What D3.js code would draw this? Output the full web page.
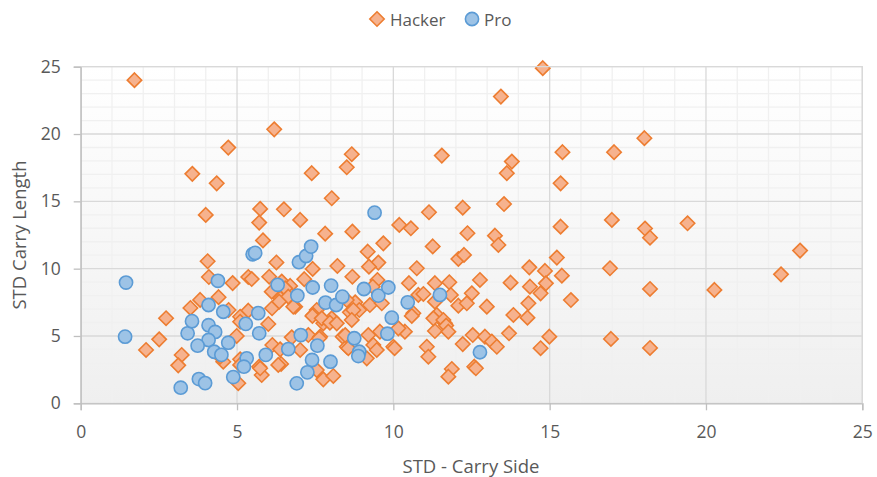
<!DOCTYPE html>
<html>
<head>
<meta charset="utf-8">
<title>STD Carry Side vs Carry Length</title>
<script src="https://d3js.org/d3.v7.min.js"></script>
<style>
  body { margin: 0; background: #fff; }
  text { font-family: "Open Sans", "Noto Sans", sans-serif; fill: #595959; }
</style>
</head>
<body>
<svg id="chart" width="877" height="477"></svg>
<script>
// values: [STD carry side, STD carry length]
const hacker = [
  [1.72,24.0],[14.78,24.89],[13.44,22.78],[6.19,20.35],[4.72,18.99],[18.03,19.69],[17.06,18.65],
  [15.41,18.65],[8.67,18.5],[11.55,18.4],[13.79,17.95],[8.51,17.53],[3.57,17.04],[7.39,17.09],
  [13.63,17.09],[4.35,16.34],[15.35,16.34],[8.03,15.23],[13.54,14.8],[12.22,14.53],[5.74,14.44],
  [6.5,14.41],[4.0,13.99],[11.14,14.19],[7.02,13.62],[16.99,13.62],[19.41,13.37],[15.35,13.12],
  [18.05,12.98],[18.21,12.3],[5.71,13.42],[10.19,13.25],[10.56,13.0],[8.69,12.75],[7.82,12.6],
  [12.37,12.63],[13.25,12.45],[13.36,11.76],[5.83,12.1],[9.68,11.88],[11.26,11.65],[23.01,11.34],
  [9.18,11.26],
  [4.06,10.55],[6.26,10.46],[9.52,10.45],[9.22,10.15],[8.21,10.2],[7.42,9.98],[10.75,10.03],
  [12.08,10.72],[12.26,11.02],[15.23,10.82],[14.35,10.1],[14.85,9.83],[15.39,9.48],[16.93,10.03],
  [22.4,9.58],[8.69,9.4],[4.1,9.38],[4.86,8.93],[5.36,9.38],[5.47,9.23],[6.03,9.4],[7.15,9.22],
  [6.43,9.04],[9.49,9.16],[10.5,8.92],[11.33,8.92],[11.79,8.99],[12.77,9.16],[13.75,8.96],
  [14.37,8.66],[14.88,8.91],[9.34,8.66],[6.7,8.72],[6.59,8.34],[6.54,8.54],[18.21,8.49],[20.27,8.42],
  [4.41,7.88],[3.82,7.68],[3.51,7.08],[6.38,7.8],[6.12,7.06],[6.86,7.18],[4.73,6.93],[5.36,6.88],
  [8.78,7.5],[8.91,6.93],[9.25,7.3],[8.61,6.76],[9.63,7.43],[10.8,8.05],[10.96,8.12],[11.33,7.55],
  [11.84,8.05],[12.51,8.17],[12.08,7.25],[12.35,7.43],[12.99,7.18],[14.32,7.43],[14.71,8.17],
  [15.68,7.67],[8.51,7.67],[6.11,8.29],[6.64,7.92],[6.35,7.55],[6.8,7.18],[7.55,6.93],[7.44,6.56],
  [7.76,5.94],[8.03,6.31],
  [2.73,6.32],[5.1,6.43],[7.41,6.49],[7.71,6.31],[7.97,5.99],[8.19,5.94],[8.72,6.93],[8.67,6.19],
  [6.0,5.89],[10.64,6.69],[11.39,6.56],[11.65,5.94],[11.33,5.37],[10.59,6.49],[11.28,6.31],
  [11.6,6.19],[11.69,5.77],[11.76,5.32],[13.84,6.56],[14.29,6.36],[9.57,5.32],[10.37,5.32],
  [10.16,5.57],[9.2,5.07],[12.54,5.07],[13.7,5.2],[12.93,4.95],[14.99,4.95],[16.96,4.78],[5.1,6.06],
  [2.51,4.75],[2.09,3.96],[3.23,3.59],[3.12,2.82],[4.99,5.0],[4.56,3.09],[5.1,3.27],[4.46,3.46],
  [6.13,4.33],[6.38,4.01],[6.75,4.9],[7.02,3.96],[7.28,5.07],[7.66,4.95],[8.38,4.95],[8.51,4.2],
  [7.63,4.83],[8.46,5.07],[9.36,4.33],[9.47,3.96],[10.0,4.2],[10.04,4.09],[11.07,4.2],[11.12,3.46],
  [8.56,4.09],[9.15,3.34],[12.22,4.4],[13.15,4.58],[13.31,4.2],[14.71,4.09],[18.21,4.11],
  [6.41,2.92],[5.71,2.72],[5.79,2.1],[5.04,1.49],[7.55,2.47],[7.76,1.78],[8.08,2.03],[5.1,2.85],
  [5.74,2.6],[6.32,2.85],[11.87,2.55],[11.76,1.98],[12.59,2.72],[12.64,2.6]
];

const pro = [
  [1.45,8.97],[1.42,4.95],[3.2,1.16],[3.78,1.8],[3.98,1.5],[3.42,5.2],[3.56,6.1],[4.09,7.3],
  [4.09,5.8],[4.3,5.3],[4.09,4.7],[3.74,4.28],[4.27,3.83],[4.5,3.6],[4.72,4.5],[4.56,6.8],
  [4.39,9.1],[5.5,11.07],[5.58,11.17],[5.28,5.9],[5.68,6.7],[5.71,5.2],[5.92,3.6],[5.31,3.34],
  [5.22,2.72],[4.88,1.95],[6.3,8.8],[6.93,8.0],[7.04,5.07],[6.64,4.03],[7.4,3.22],[7.25,2.3],
  [6.91,1.48],[7.57,4.28],[7.99,3.09],[7.83,7.48],[8.01,8.74],[8.17,7.3],[8.37,7.92],[6.98,10.48],
  [7.21,10.94],[7.37,11.64],[7.42,8.6],[8.75,4.83],[8.91,3.83],[8.88,3.51],[9.06,8.49],[9.52,8.0],
  [9.84,8.6],[9.95,6.36],[9.81,5.17],[10.46,7.5],[11.49,8.05],[9.4,14.16],[12.77,3.79]
];

const seriesNames = ["Hacker", "Pro"];
const xTicks = [0, 5, 10, 15, 20, 25];
const yTicks = [0, 5, 10, 15, 20, 25];

const svg = d3.select("#chart");
const pLeft = 80.7, pRight = 862.3, pTop = 66.7, pBottom = 403.3;

const x = d3.scaleLinear().domain([0, 25]).range([pLeft, pRight]);
const y = d3.scaleLinear().domain([0, 25]).range([pBottom, pTop]);

// plot background gradient
const defs = svg.append("defs");
const grad = defs.append("linearGradient").attr("id", "bg")
  .attr("x1", 0).attr("y1", 0).attr("x2", 0).attr("y2", 1);
grad.append("stop").attr("offset", "0%").attr("stop-color", "#ffffff");
grad.append("stop").attr("offset", "100%").attr("stop-color", "#efefef");

svg.append("rect")
  .attr("x", pLeft).attr("y", pTop)
  .attr("width", pRight - pLeft).attr("height", pBottom - pTop)
  .attr("fill", "url(#bg)");

// minor grid
const minor = d3.range(0, 26).filter(d => d % 5 !== 0);
svg.append("g").selectAll("line").data(minor).join("line")
  .attr("x1", d => x(d)).attr("x2", d => x(d))
  .attr("y1", pTop).attr("y2", pBottom)
  .attr("stroke", "#f0f0f0").attr("stroke-width", 1.3);
svg.append("g").selectAll("line").data(minor).join("line")
  .attr("y1", d => y(d)).attr("y2", d => y(d))
  .attr("x1", pLeft).attr("x2", pRight)
  .attr("stroke", "#f0f0f0").attr("stroke-width", 1.3);

// major grid
svg.append("g").selectAll("line").data(xTicks).join("line")
  .attr("x1", d => x(d)).attr("x2", d => x(d))
  .attr("y1", pTop).attr("y2", pBottom)
  .attr("stroke", "#d9d9d9").attr("stroke-width", 1.3);
svg.append("g").selectAll("line").data(yTicks).join("line")
  .attr("y1", d => y(d)).attr("y2", d => y(d))
  .attr("x1", pLeft).attr("x2", pRight)
  .attr("stroke", "#d9d9d9").attr("stroke-width", 1.3);

// axes
const xAxis = svg.append("g")
  .attr("transform", "translate(0," + pBottom + ")")
  .call(d3.axisBottom(x).tickValues(xTicks).tickSize(7).tickPadding(15));
const yAxis = svg.append("g")
  .attr("transform", "translate(" + pLeft + ",0)")
  .call(d3.axisLeft(y).tickValues(yTicks).tickSize(7).tickPadding(13));

[xAxis, yAxis].forEach(g => {
  g.select(".domain").attr("stroke", "#bfbfbf").attr("stroke-width", 1.3);
  g.selectAll(".tick line").attr("stroke", "#bfbfbf").attr("stroke-width", 1.3);
  g.selectAll(".tick text").style("font-size", "17.5px").attr("fill", "#595959")
    .style("font-family", '"Open Sans", sans-serif');
});

// axis titles
svg.append("text")
  .attr("x", 471).attr("y", 473)
  .attr("text-anchor", "middle").style("font-size", "18.5px")
  .text("STD - Carry Side");
svg.append("text")
  .attr("transform", "translate(26,235) rotate(-90)")
  .attr("text-anchor", "middle").style("font-size", "18.5px")
  .text("STD Carry Length");

// markers
const diamond = "M0,-7.2L7.2,0L0,7.2L-7.2,0Z";

svg.append("g").selectAll("path").data(hacker).join("path")
  .attr("d", diamond)
  .attr("transform", d => "translate(" + x(d[0]) + "," + y(d[1]) + ")")
  .attr("fill", "#f6b28e").attr("stroke", "#ed7d31").attr("stroke-width", 1.6);

svg.append("g").selectAll("circle").data(pro).join("circle")
  .attr("cx", d => x(d[0])).attr("cy", d => y(d[1])).attr("r", 6.6)
  .attr("fill", "#9dc3e6").attr("stroke", "#5b9bd5").attr("stroke-width", 1.6);

// legend
const legend = svg.append("g");
legend.append("path").attr("d", diamond)
  .attr("transform", "translate(377,19)")
  .attr("fill", "#f6b28e").attr("stroke", "#ed7d31").attr("stroke-width", 1.6);
legend.append("text").attr("x", 390).attr("y", 25.5).style("font-size", "17px").text(seriesNames[0]);
legend.append("circle").attr("cx", 472).attr("cy", 19).attr("r", 6.6)
  .attr("fill", "#9dc3e6").attr("stroke", "#5b9bd5").attr("stroke-width", 1.6);
legend.append("text").attr("x", 484).attr("y", 25.5).style("font-size", "17px").text(seriesNames[1]);

// top/right border of the plot area
svg.append("path")
  .attr("d", "M" + pLeft + "," + pTop + "H" + pRight + "V" + pBottom)
  .attr("fill", "none").attr("stroke", "#d9d9d9").attr("stroke-width", 1.3);
</script>
</body>
</html>
